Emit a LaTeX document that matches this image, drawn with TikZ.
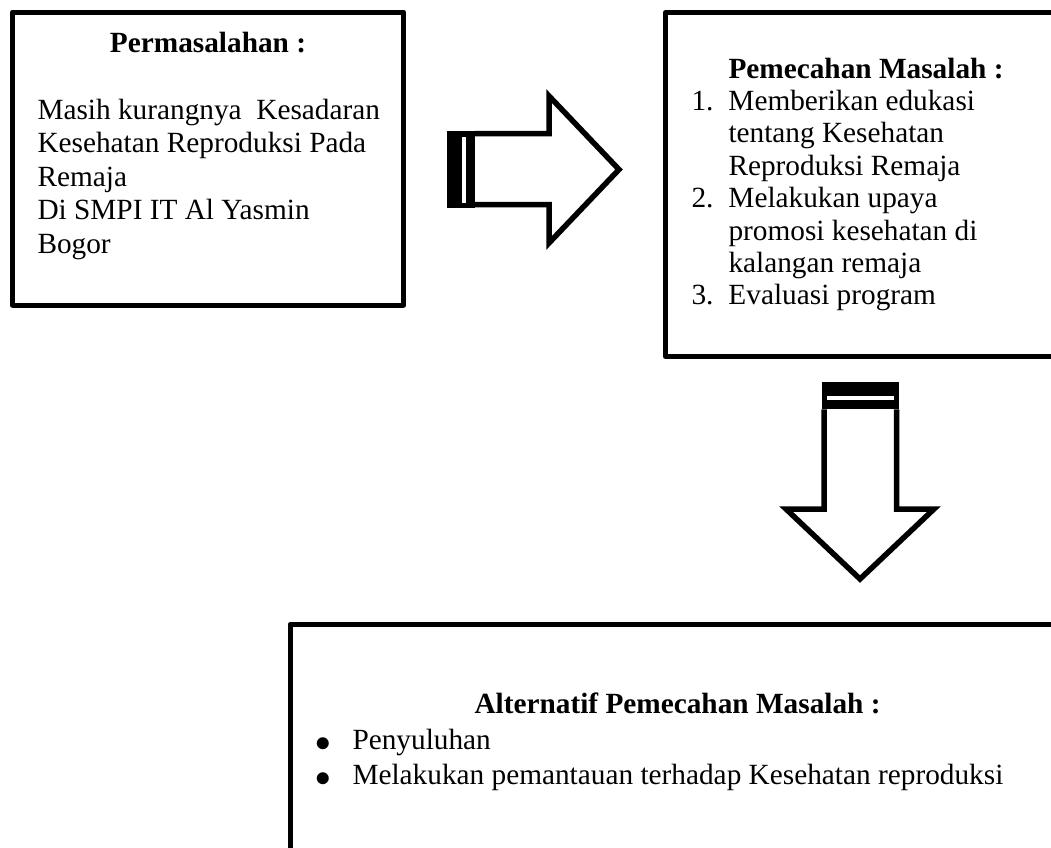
\documentclass[tikz,border=0pt]{standalone}
\usepackage{fontspec}
\setmainfont{Liberation Serif}
\usetikzlibrary{positioning}
\newlength{\lw}
\setlength{\lw}{5pt}
\newcommand{\titik}{\raisebox{-2.2pt}{\scalebox{1.25}{$\bullet$}}}
\tikzstyle{every picture}+=[x=1pt,y=-1pt]
\tikzstyle{every picture}+=[line width=\lw]
\tikzstyle{every picture}+=[line join=round]
\tikzstyle{kotak}+=[draw, rectangle, fill=white]
\tikzstyle{kotak}+=[inner sep=0pt, outer sep=0pt, anchor=north west]
\tikzstyle{teks}+=[inner sep=0pt, anchor=base west]
\tikzstyle{teks}+=[font=\fontsize{29.3}{33.5}\selectfont]
\tikzstyle{judul}+=[teks, font=\fontsize{29.3}{33.5}\selectfont\bfseries]
\tikzstyle{panah}+=[line width=5.5pt, line join=miter, fill=white]
\tikzstyle{ekor}+=[fill=black, draw=none]
\tikzstyle{celah}+=[fill=white, draw=none]

\begin{document}
\begin{tikzpicture}
\useasboundingbox (0,0) rectangle (1051,847);
\clip (0,0) rectangle (1051,847);

% kotak
\node[kotak, minimum width=391pt, minimum height=293pt] (masalah) at (12.5,12) {};
\node[kotak, minimum width=440pt, minimum height=344pt] (pemecahan) at (665.5,12.5) {};
\node[kotak, minimum width=810pt, minimum height=280pt] (alternatif) at (290,624.5) {};

% isi
\node[judul, anchor=base] (judulmasalah) at (208,52) {Permasalahan :};
\node[teks] (isimasalah) at (35,119) {\begin{tabular}[t]{@{}l@{}}
  Masih kurangnya\ \ Kesadaran\\
  Kesehatan Reproduksi Pada\\
  Remaja\\
  Di SMPI IT Al Yasmin\\
  Bogor\end{tabular}};
\node[teks, font=\fontsize{29.3}{32.4}\selectfont] (isipemecahan) at (689,78) {\begin{tabular}[t]{@{}p{37pt}@{}l@{}}
  & \textbf{Pemecahan Masalah :}\\
  1. & Memberikan edukasi\\
     & tentang Kesehatan\\
     & Reproduksi Remaja\\
  2. & Melakukan upaya\\
     & promosi kesehatan di\\
     & kalangan remaja\\
  3. & Evaluasi program\end{tabular}};
\node[judul] (judulalternatif) at (472,713) {Alternatif Pemecahan Masalah :};
\node[teks, font=\fontsize{29.3}{35.5}\selectfont] (isialternatif) at (313,749) {\begin{tabular}[t]{@{}p{37pt}@{}l@{}}
  \titik & Penyuluhan\\
  \titik & Melakukan pemantauan terhadap Kesehatan reproduksi\end{tabular}};

% panah kanan
\fill[ekor] (447.3,130.7) rectangle (475,207.7);
\fill[celah] (462.3,136.7) rectangle (465.7,202.7);
\draw[panah] (475,133.7) -- (549,133.7) -- (549,96) -- (619,169.5)
  -- (549,243) -- (549,204.7) -- (475,204.7);

% panah bawah
\fill[ekor] (821.7,381.7) rectangle (899.3,409.3);
\fill[celah] (826.7,396) rectangle (894,400);
\draw[panah] (824.2,409.3) -- (824.2,509) -- (786,509) -- (860,579)
  -- (934,509) -- (896.6,509) -- (896.6,409.3);
\end{tikzpicture}
\end{document}
